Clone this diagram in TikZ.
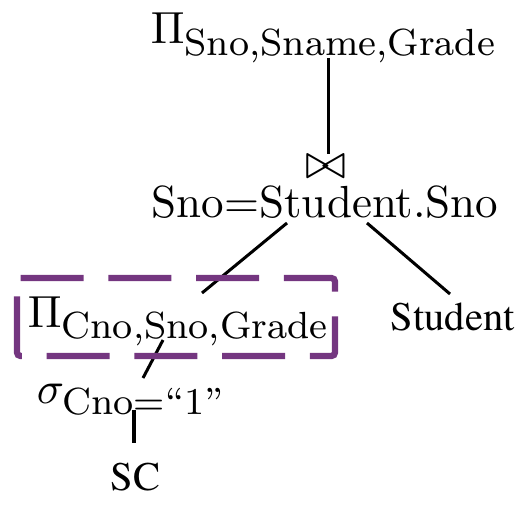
\documentclass[tikz,border=0pt]{standalone}
\usepackage{amsmath}
\usetikzlibrary{calc}
\definecolor{boxpurple}{RGB}{116,54,128}
\newcommand{\subtx}[1]{\mbox{\fontsize{8.4}{10}\selectfont #1}}
\newcommand{\timestx}{\fontencoding{OT1}\fontfamily{ptm}\fontseries{m}\fontshape{n}\fontsize{9}{11}\selectfont}
\begin{document}
\begin{tikzpicture}[x=0.2222pt,y=-0.2222pt,
  lbl/.style={inner sep=0pt, anchor=base west},
  conn/.style={line width=0.67pt},
  boxline/.style={draw=boxpurple, line width=1.4pt, dash pattern=on 14pt off 5.5pt, rounded corners=0.8pt}]
\useasboundingbox (0,0) rectangle (521,505);
% nodes
\node[lbl] (proj) at (150,44) {$\Pi_{\subtx{Sno,Sname,Grade}}$};
\node[inner sep=0pt, scale=1.1] (join) at (326,167) {$\bowtie$};
\node[lbl] (cond) at (151,217) {Sno=Student.Sno};
\node[lbl] (student) at (390,330) {\timestx Student};
\node[lbl] (proj2) at (27,327) {$\Pi_{\subtx{Cno,Sno,Grade}}$};
\node[lbl] (sel) at (36,403) {$\sigma_{\subtx{Cno=``1''}}$};
\node[lbl] (sc) at (110,490) {\timestx SC};
% connector end points
\coordinate (projB) at (328,58);
\coordinate (joinT) at (328,154);
\coordinate (condL) at (287,223);
\coordinate (proj2T) at (202,293);
\coordinate (condR) at (367,223);
\coordinate (studentT) at (450,294);
\coordinate (proj2B) at (163,340);
\coordinate (selT) at (143,378);
\coordinate (selB) at (134,410);
\coordinate (scT) at (134,443);
% connectors
\draw[conn] (projB) -- (joinT);
\draw[conn] (condL) -- (proj2T);
\draw[conn] (condR) -- (studentT);
\draw[conn] (proj2B) -- (selT);
\draw[conn] (selB) -- (scT);
% dashed box
\draw[boxline] (17,278) -- (335,278) -- (335,356) -- (17,356) -- cycle;
\end{tikzpicture}
\end{document}
